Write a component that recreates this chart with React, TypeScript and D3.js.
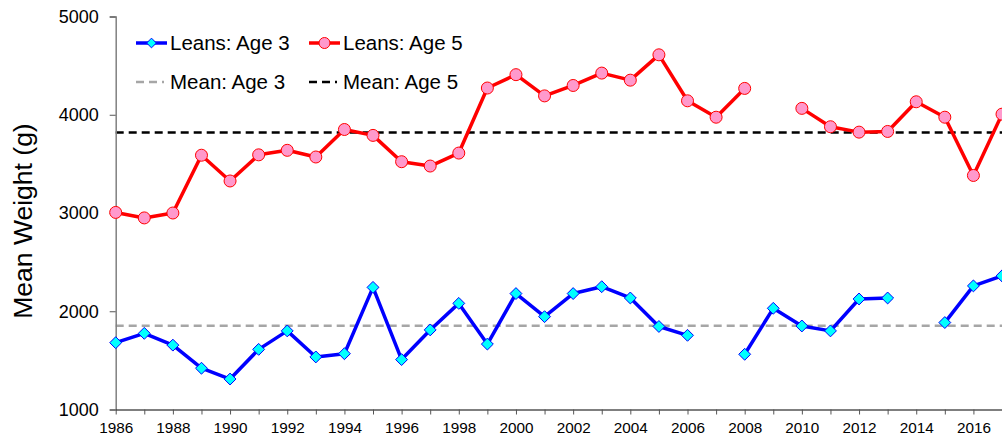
import React, { useRef, useEffect } from "react";
import * as d3 from "d3";

const years = d3.range(1986, 2018);

// null = no data for that year
const age3: (number | null)[] = [
  1680, 1775, 1655, 1420, 1310, 1612, 1800, 1535, 1568, 2243, 1508, 1810, 2080, 1666, 2180, 1945,
  2180, 2250, 2135, 1845, 1755, null, 1562, 2030, 1850, 1800, 2125, 2135, null, 1885, 2258, 2360,
];

const age5: (number | null)[] = [
  3006, 2950, 3000, 3588, 3326, 3592, 3638, 3570, 3850, 3790, 3522, 3478, 3610, 4272, 4408, 4192,
  4298, 4424, 4352, 4610, 4142, 3975, 4268, null, 4065, 3878, 3823, 3830, 4132, 3975, 3382, 4006,
];

const meanAge3 = 1852;
const meanAge5 = 3820;

const yTicks = [1000, 2000, 3000, 4000, 5000];
const xLabelYears = years.filter((y) => y % 2 === 0);

interface Pt {
  year: number;
  value: number | null;
}

const FONT = "'Liberation Sans', Arial, sans-serif";

const App: React.FC = () => {
  const ref = useRef<SVGSVGElement | null>(null);

  useEffect(() => {
    const width = 1002;
    const height = 439;
    const svg = d3.select(ref.current).attr("width", width).attr("height", height);
    svg.selectAll("*").remove();

    const x = d3.scaleLinear().domain([1986, 2017]).range([115.7, 1002]);
    const y = d3.scaleLinear().domain([1000, 5000]).range([409.5, 16.5]);

    // Mean lines
    svg
      .append("line")
      .attr("x1", x(1986))
      .attr("x2", width)
      .attr("y1", y(meanAge3))
      .attr("y2", y(meanAge3))
      .attr("stroke", "#a6a6a6")
      .attr("stroke-width", 2.5)
      .attr("stroke-dasharray", "8,5");
    svg
      .append("line")
      .attr("x1", x(1986))
      .attr("x2", width)
      .attr("y1", y(meanAge5))
      .attr("y2", y(meanAge5))
      .attr("stroke", "#000")
      .attr("stroke-width", 2.5)
      .attr("stroke-dasharray", "8,5");

    // Axes
    const yAxis = svg
      .append("g")
      .attr("transform", `translate(${x(1986)},0)`)
      .call(d3.axisLeft(y).tickValues(yTicks).tickSize(6).tickPadding(11).tickFormat(d3.format("d")) as any);
    yAxis.select(".domain").attr("stroke", "#808080").attr("stroke-width", 1.5);
    yAxis.selectAll(".tick line").attr("stroke", "#555");
    yAxis
      .selectAll("text")
      .attr("font-family", FONT)
      .attr("font-size", 18)
      .attr("fill", "#000");

    const xAxis = svg
      .append("g")
      .attr("transform", `translate(0,${y(1000)})`)
      .call(
        d3
          .axisBottom(x)
          .tickValues(years)
          .tickSize(5)
          .tickSizeOuter(0)
          .tickPadding(8)
          .tickFormat((d) => (xLabelYears.includes(d as number) ? String(d) : "")) as any,
      );
    xAxis.select(".domain").attr("stroke", "#000").attr("stroke-width", 1.2);
    xAxis.selectAll(".tick line").attr("stroke", "#555");
    xAxis
      .selectAll("text")
      .attr("font-family", FONT)
      .attr("font-size", 15.3)
      .attr("fill", "#000");

    const line = d3
      .line<Pt>()
      .defined((d) => d.value !== null)
      .x((d) => x(d.year))
      .y((d) => y(d.value as number));

    const pts3: Pt[] = years.map((yr, i) => ({ year: yr, value: age3[i] }));
    const pts5: Pt[] = years.map((yr, i) => ({ year: yr, value: age5[i] }));

    // Age 5 series
    svg
      .append("path")
      .datum(pts5)
      .attr("fill", "none")
      .attr("stroke", "#ff0000")
      .attr("stroke-width", 3.5)
      .attr("stroke-linejoin", "round")
      .attr("d", line);
    svg
      .selectAll(".dot5")
      .data(pts5.filter((d) => d.value !== null))
      .enter()
      .append("circle")
      .attr("class", "dot5")
      .attr("cx", (d) => x(d.year))
      .attr("cy", (d) => y(d.value as number))
      .attr("r", 6)
      .attr("fill", "#ff99cc")
      .attr("stroke", "#ff0000")
      .attr("stroke-width", 1);

    // Age 3 series
    svg
      .append("path")
      .datum(pts3)
      .attr("fill", "none")
      .attr("stroke", "#0000ff")
      .attr("stroke-width", 3.5)
      .attr("stroke-linejoin", "round")
      .attr("d", line);
    const diamond = d3.symbol().type(d3.symbolDiamond2).size(90);
    svg
      .selectAll(".dot3")
      .data(pts3.filter((d) => d.value !== null))
      .enter()
      .append("path")
      .attr("class", "dot3")
      .attr("transform", (d) => `translate(${x(d.year)},${y(d.value as number)})`)
      .attr("d", diamond)
      .attr("fill", "#00ffff")
      .attr("stroke", "#0000ff")
      .attr("stroke-width", 1);

    // Legend
    const legend = svg.append("g").attr("font-family", FONT).attr("font-size", 20.5);
    const items = [
      { label: "Leans: Age 3", x0: 136, row: 43, kind: "diamond" },
      { label: "Leans: Age 5", x0: 309, row: 43, kind: "circle" },
      { label: "Mean: Age 3", x0: 136, row: 82, kind: "grey" },
      { label: "Mean: Age 5", x0: 309, row: 82, kind: "black" },
    ];
    items.forEach((it) => {
      const g = legend.append("g");
      if (it.kind === "diamond" || it.kind === "circle") {
        const col = it.kind === "diamond" ? "#0000ff" : "#ff0000";
        g.append("line")
          .attr("x1", it.x0)
          .attr("x2", it.x0 + 31)
          .attr("y1", it.row)
          .attr("y2", it.row)
          .attr("stroke", col)
          .attr("stroke-width", 3.5);
        if (it.kind === "diamond") {
          g.append("path")
            .attr("transform", `translate(${it.x0 + 15.5},${it.row})`)
            .attr("d", d3.symbol().type(d3.symbolDiamond2).size(60))
            .attr("fill", "#00ffff")
            .attr("stroke", "#0000ff");
        } else {
          g.append("circle")
            .attr("cx", it.x0 + 15.5)
            .attr("cy", it.row)
            .attr("r", 5.5)
            .attr("fill", "#ff99cc")
            .attr("stroke", "#ff0000");
        }
      } else {
        g.append("line")
          .attr("x1", it.x0)
          .attr("x2", it.x0 + 28)
          .attr("y1", it.row)
          .attr("y2", it.row)
          .attr("stroke", it.kind === "grey" ? "#a6a6a6" : "#000")
          .attr("stroke-width", 2.5)
          .attr("stroke-dasharray", "8,5");
      }
      g.append("text")
        .attr("x", it.x0 + 34)
        .attr("y", it.row)
        .attr("dy", "0.35em")
        .attr("fill", "#000")
        .text(it.label);
    });

    // Y axis title
    svg
      .append("text")
      .attr("transform", "rotate(-90)")
      .attr("x", -221)
      .attr("y", 32)
      .attr("text-anchor", "middle")
      .attr("font-family", FONT)
      .attr("font-size", 26.5)
      .attr("fill", "#000")
      .text("Mean Weight (g)");
  }, []);

  return <svg ref={ref} style={{ position: "absolute", left: 0, top: 0 }} />;
};

export default App;
